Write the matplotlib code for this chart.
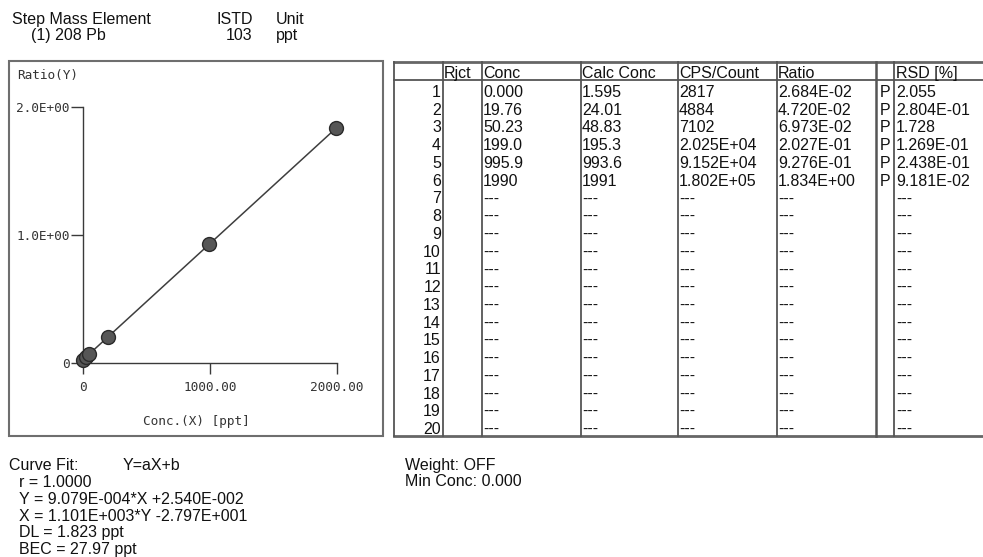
import matplotlib
matplotlib.use('Agg')
import matplotlib.pyplot as plt

# calibration data, step (1) 208 Pb
conc = [0.000, 19.76, 50.23, 199.0, 995.9, 1990]
conc_txt = ['0.000', '19.76', '50.23', '199.0', '995.9', '1990']
calc_conc = ['1.595', '24.01', '48.83', '195.3', '993.6', '1991']
cps = ['2817', '4884', '7102', '2.025E+04', '9.152E+04', '1.802E+05']
ratio = [2.684E-02, 4.720E-02, 6.973E-02, 2.027E-01, 9.276E-01, 1.834E+00]
ratio_txt = ['2.684E-02', '4.720E-02', '6.973E-02', '2.027E-01', '9.276E-01', '1.834E+00']
flag = ['P', 'P', 'P', 'P', 'P', 'P']
rsd = ['2.055', '2.804E-01', '1.728', '1.269E-01', '2.438E-01', '9.181E-02']
n_rows = 20

# curve fit Y = aX + b
fit_a = 9.079E-004
fit_b = 2.540E-002

x_ticks = [0, 1000, 2000]
x_ticklabels = ['0', '1000.00', '2000.00']
y_ticks = [0, 1, 2]
y_ticklabels = ['0', '1.0E+00', '2.0E+00']

curve_lines = ['r = 1.0000',
               'Y = 9.079E-004*X +2.540E-002',
               'X = 1.101E+003*Y -2.797E+001',
               'DL = 1.823 ppt',
               'BEC = 27.97 ppt']

W, H = 983, 557
sans = 'Liberation Sans'
mono = 'DejaVu Sans Mono'
ink = '#111111'

fig = plt.figure(figsize=(W / 100, H / 100), dpi=100)
fig.patch.set_facecolor('white')

# overlay in pixel coordinates for texts, boxes and table
bg = fig.add_axes([0, 0, 1, 1])
bg.set_xlim(0, W)
bg.set_ylim(H, 0)
bg.axis('off')


def txt(x, y, s, size=11.5, ha='left', family=sans, **kw):
    bg.text(x, y, s, fontsize=size, ha=ha, va='baseline', family=family, color=ink, **kw)


# header
txt(12, 24, 'Step Mass Element')
txt(31, 40, '(1) 208 Pb')
txt(217, 24, 'ISTD')
txt(252, 40, '103', ha='right')
txt(276, 24, 'Unit')
txt(276, 40, 'ppt')

# chart frame
bg.add_patch(plt.Rectangle((9, 61), 374, 375, fill=False, ec='#6e6e6e', lw=1.5))
txt(17, 79, 'Ratio(Y)', size=9.2, family=mono, alpha=0.85)
txt(196, 425, 'Conc.(X) [ppt]', size=9.2, family=mono, ha='center', alpha=0.85)

# bottom texts
txt(9, 470, 'Curve Fit:')
txt(123, 470, 'Y=aX+b')
for i, s in enumerate(curve_lines):
    txt(19, 487 + i * 16.8, s)
txt(405, 470, 'Weight: OFF')
txt(405, 486, 'Min Conc: 0.000')

# table grid
t_left, t_right, t_top, t_head, t_bot = 394, 990, 62, 80, 436
col_x = [443, 482, 581, 678, 777, 876, 894]
lc = '#555555'
bg.plot([t_left, t_right], [t_top, t_top], color='#666666', lw=2)
bg.plot([t_left, t_right], [t_head, t_head], color=lc, lw=1.3)
bg.plot([t_left, t_right], [t_bot, t_bot], color='#666666', lw=2)
bg.plot([t_left, t_left], [t_top, t_bot], color=lc, lw=1.3)
for cx in col_x:
    bg.plot([cx, cx], [t_top, t_bot], color=lc, lw=1.3 if cx != 876 else 1.8)

ts = 11.5
txt(444, 78, 'Rjct', size=ts)
txt(483, 78, 'Conc', size=ts)
txt(582, 78, 'Calc Conc', size=ts)
txt(679, 78, 'CPS/Count', size=ts)
txt(778, 78, 'Ratio', size=ts)
txt(896, 78, 'RSD [%]', size=ts)

row0, dy = 97, (434 - 97) / (n_rows - 1)
for r in range(n_rows):
    yb = row0 + r * dy
    txt(441, yb, str(r + 1), size=ts, ha='right')
    if r < len(conc_txt):
        cells = [conc_txt[r], calc_conc[r], cps[r], ratio_txt[r], rsd[r]]
        txt(880, yb, flag[r], size=ts)
    else:
        cells = ['---'] * 5
    for cx, s in zip([483, 582, 679, 778, 896], cells):
        txt(cx, yb, s, size=ts)

# calibration plot
ax = fig.add_axes([83 / W, 1 - 363 / H, 254 / W, 256 / H])
ax.patch.set_alpha(0)
ax.set_xlim(0, 2000)
ax.set_ylim(0, 2)
fx = [conc[0], conc[-1]]
ax.plot(fx, [fit_a * v + fit_b for v in fx], color='#3e3e3e', lw=1.1, clip_on=False, zorder=2)
ax.plot(conc, ratio, linestyle='none', marker='o', markersize=10,
        markerfacecolor='#565656', markeredgecolor='#2a2a2a', markeredgewidth=1.0,
        clip_on=False, zorder=3)
for s in ['top', 'right']:
    ax.spines[s].set_visible(False)
for s in ['left', 'bottom']:
    ax.spines[s].set_color('#3a3a3a')
    ax.spines[s].set_linewidth(1.0)
ax.set_xticks(x_ticks)
ax.set_xticklabels(x_ticklabels, family=mono, fontsize=9.2, color='#333333')
ax.set_yticks(y_ticks)
ax.set_yticklabels(y_ticklabels, family=mono, fontsize=9.2, color='#333333')
ax.tick_params(axis='y', direction='out', length=8.5, width=1.0, pad=1, color='#3a3a3a')
ax.tick_params(axis='x', direction='out', length=8, width=1.0, pad=5, color='#3a3a3a')

fig.savefig('out.png', dpi=100)
